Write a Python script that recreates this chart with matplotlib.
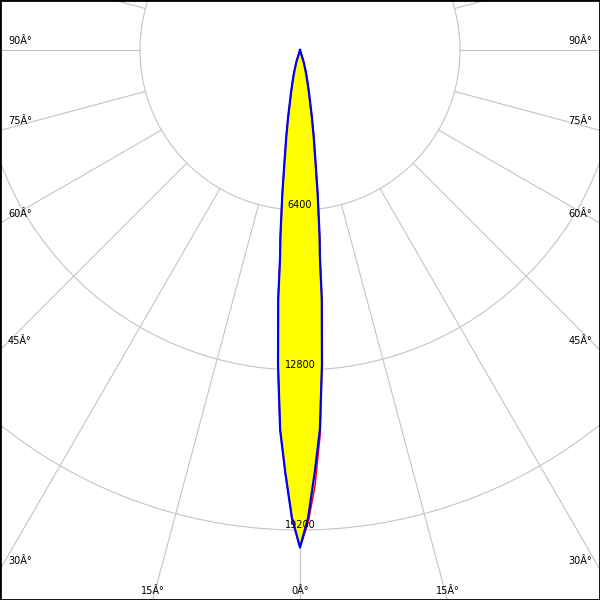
import numpy as np
import matplotlib
matplotlib.use('Agg')
import matplotlib.pyplot as plt

# Luminous intensity (cd) vs. angle from the beam axis (deg)
angles_deg = [0, 1, 2, 3, 4, 5, 5.5, 6, 7, 8, 9, 10, 11, 12, 13, 14, 15, 17, 20]
c0_cd = [19900, 18700, 16900, 15200, 12600, 10000, 8300, 7500, 5800, 4400,
         3500, 2750, 2100, 1700, 1350, 1100, 850, 500, 0]
c90_cd = [19900, 18900, 17400, 15400, 12600, 10000, 8300, 7500, 5800, 4400,
          3500, 2750, 2100, 1700, 1350, 1100, 850, 500, 0]

ring_values = [6400, 12800, 19200, 25600]
ring_labels = ['6400', '12800', '19200']
spoke_angles = list(range(0, 360, 15))
edge_labels = [0, 15, 30, 45, 60, 75, 90]

# pixel scale: 6400 cd -> 160 px, pole at (300, 50) in a 600x600 image
px = 6400 / 160.0
x_lo, x_hi = -300 * px, 300 * px
y_lo, y_hi = -550 * px, 50 * px

fig = plt.figure(figsize=(6, 6), dpi=100)
ax = fig.add_axes([0, 0, 1, 1])
ax.set_xlim(x_lo, x_hi)
ax.set_ylim(y_lo, y_hi)
ax.set_aspect('equal')
ax.set_xticks([])
ax.set_yticks([])
for s in ax.spines.values():
    s.set_linewidth(2)
    s.set_color('black')

grid_col = '#c4c4c4'

# rings
t = np.linspace(0, 2 * np.pi, 721)
for r in ring_values:
    ax.plot(r * np.sin(t), -r * np.cos(t), color=grid_col, lw=0.8, zorder=1)

# spokes, starting at the first ring
for a in spoke_angles:
    ar = np.radians(a)
    ax.plot([6400 * np.sin(ar), 40000 * np.sin(ar)],
            [-6400 * np.cos(ar), -40000 * np.cos(ar)],
            color=grid_col, lw=0.8, zorder=1)

# photometric curves
ang = np.radians(np.array(angles_deg))
c0 = np.array(c0_cd, dtype=float)
c90 = np.array(c90_cd, dtype=float)

th0 = np.concatenate([-ang[::-1], ang[1:]])
r0 = np.concatenate([c0[::-1], c0[1:]])
x0, y0 = r0 * np.sin(th0), -r0 * np.cos(th0)

# C90 plane differs only on the right-hand half
r90 = np.concatenate([c0[::-1], c90[1:]])
x90, y90 = r90 * np.sin(th0), -r90 * np.cos(th0)

ax.fill(x0, y0, color='#ffff00', zorder=2)
ax.plot(x90, y90, color='#ff0000', lw=1.1, zorder=3)
ax.plot(x0, y0, color='#0000ff', lw=1.6, zorder=4)

# ring values
for v, lab in zip(ring_values, ring_labels):
    ax.text(0, -v, lab, ha='center', va='bottom', fontsize=7, zorder=5)

# angle labels at the frame edge
for a in edge_labels:
    ar = np.radians(a)
    sx, cy = np.sin(ar), np.cos(ar)
    # where the ray meets the frame
    t_side = x_hi / sx if sx > 1e-9 else np.inf
    t_bot = -y_lo / cy if cy > 1e-9 else np.inf
    lab = '%dÂ°' % a
    if t_side < t_bot:
        yy = -t_side * cy
        ax.annotate(lab, xy=(x_lo, yy), xytext=(8, 4), textcoords='offset pixels',
                    ha='left', va='bottom', fontsize=7)
        ax.annotate(lab, xy=(x_hi, yy), xytext=(-8, 4), textcoords='offset pixels',
                    ha='right', va='bottom', fontsize=7)
    else:
        xx = t_bot * sx
        for sgn in ([1, -1] if a else [1]):
            ax.annotate(lab, xy=(sgn * xx, y_lo), xytext=(0, 4), textcoords='offset pixels',
                        ha='center', va='bottom', fontsize=7)

fig.savefig('out.png', dpi=100)
